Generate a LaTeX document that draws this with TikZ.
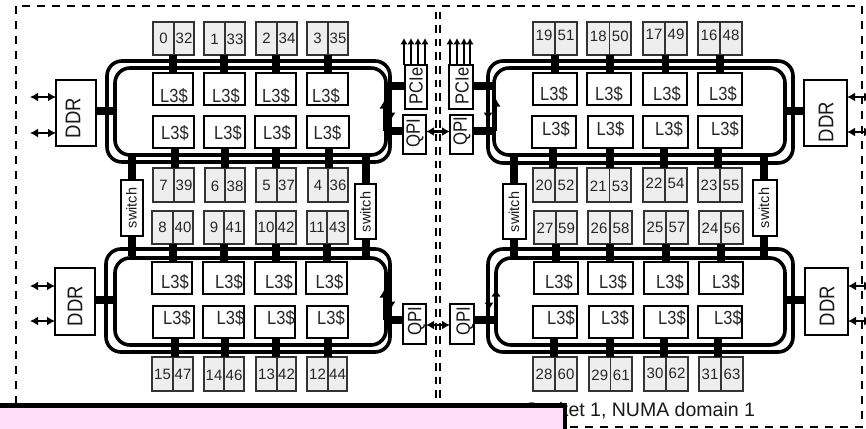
\documentclass[tikz,border=0pt]{standalone}
\usepackage{fontspec}
\usepackage{graphicx}
\setmainfont{Liberation Sans}
\usetikzlibrary{fit,arrows.meta}
\definecolor{pinkbox}{RGB}{255,221,248}
\definecolor{cellgray}{RGB}{238,238,238}
\newcommand\tallt[1]{\scalebox{1}[1.15]{#1}}
\tikzset{
  fitbox/.style={inner sep=0pt,outer sep=0pt,minimum size=0pt},
  cell/.style={fitbox,draw=black!80,line width=1.4pt,fill=cellgray},
  wbox/.style={fitbox,draw=black,line width=1.9pt,fill=white},
  ringbox/.style={fitbox,draw=black,line width=3.6pt,rounded corners=15pt},
  num/.style={inner sep=0pt,font=\fontsize{15}{15}\selectfont,text=black!85},
  cache/.style={inner sep=0pt,font=\fontsize{16.5}{17}\selectfont,text=black!85},
  vlabel/.style={inner sep=0pt,rotate=90,text=black!90},
  link/.style={draw=black,line width=7.5pt},
  biarrow/.style={draw=black,line width=2.4pt,{Latex[length=8pt,width=9pt]}-{Latex[length=8pt,width=9pt]}},
  uparrow/.style={draw=black,line width=1.8pt,-{Latex[length=6.5pt,width=7.5pt]}},
  ringarrow/.style={draw=black,line width=2pt,-{Latex[length=7.5pt,width=9.5pt]}},
  frame/.style={draw=black,line width=1.3pt,dash pattern=on 8pt off 7pt},
  midline/.style={draw=black,line width=1.3pt,dash pattern=on 7.5pt off 6pt}
}
\newcommand\corepair[9]{%
  \node[cell,fit={(#4,#7)(#5,#8)}] (#1a) {};
  \node[cell,fit={(#5,#7)(#6,#8)}] (#1b) {};
  \node[num] (#1at) at (#1a.center |- 0,#9) {#2};
  \node[num] (#1bt) at (#1b.center |- 0,#9) {#3};
}
\newcommand\lthree[7]{%
  \node[wbox,fit={(#2,#4)(#3,#5)}] (#1) {};
  \node[cache] (#1t) at (#6,#7) {\tallt{L3\$}};
}
\newcommand\rotbox[8]{% name x1 x2 y1 y2 tx ty size; text follows
  \node[wbox,fit={(#2,#4)(#3,#5)}] (#1) {};
  \node[vlabel,font=\fontsize{#8}{#8}\selectfont] (#1t) at (#6,#7)
}
\begin{document}
\begin{tikzpicture}[x=1pt,y=-1pt]
\useasboundingbox (0,0) rectangle (866,428);
\clip (0,0) rectangle (866,428);
% frames
\draw[frame] (16,6) rectangle (862,427);
\coordinate (ma) at (436,12); \coordinate (mb) at (436,410);
\coordinate (mc) at (440,12); \coordinate (md) at (440,410);
\draw[midline] (ma) -- (mb);
\draw[midline] (mc) -- (md);
\node[inner sep=0pt,anchor=base west,font=\fontsize{19.5}{20}\selectfont,text=black!90] (title) at (525,416) {Socket 1, NUMA domain 1};
% rings
\node[ringbox,fit={(107,61)(390,162)}] (rTLo) {};
\node[ringbox,fit={(115,68)(386,155)}] (rTLi) {};
\node[ringbox,fit={(106,249)(390,352)}] (rBLo) {};
\node[ringbox,fit={(115,258)(386,345)}] (rBLi) {};
\node[ringbox,fit={(488,61)(793,163)}] (rTRo) {};
\node[ringbox,fit={(494,68)(785,155)}] (rTRi) {};
\node[ringbox,fit={(488,249)(793,352)}] (rBRo) {};
\node[ringbox,fit={(496,258)(785,345)}] (rBRi) {};
% cores, upper left
\foreach \n/\A/\B/\xa/\xm/\xb/\ty in {a0/0/32/153/174/194/38.5,a1/1/33/204/225/245/39.5,a2/2/34/256/277/297/38,a3/3/35/307/328/348/38.5}
  {\corepair{\n}{\A}{\B}{\xa}{\xm}{\xb}{22}{55}{\ty}}
\foreach \n/\A/\B/\xa/\xm/\xb/\ty in {b0/7/39/153/174/194/185,b1/6/38/205/225/245/186.5,b2/5/37/256/277/296/185,b3/4/36/308/328/348/185}
  {\corepair{\n}{\A}{\B}{\xa}{\xm}{\xb}{168}{202}{\ty}}
\foreach \n/\A/\B/\xa/\xm/\xb/\ty in {c0/8/40/152/173/193/227,c1/9/41/204/224/244/227.5,c2/10/42/256/276/296/227,c3/11/43/307/327/348/227}
  {\corepair{\n}{\A}{\B}{\xa}{\xm}{\xb}{211}{244}{\ty}}
\foreach \n/\A/\B/\xa/\xm/\xb/\ty in {d0/15/47/152/173/193/374.5,d1/14/46/204/224/244/375,d2/13/42/256/277/296/374.5,d3/12/44/307/328/347/374.5}
  {\corepair{\n}{\A}{\B}{\xa}{\xm}{\xb}{357}{391}{\ty}}
% cores, right
\foreach \n/\A/\B/\xa/\xm/\xb/\ty in {e0/19/51/533/555/577/35.5,e1/18/50/587/609.5/631/36,e2/17/49/643/665/687/34,e3/16/48/698/720/742/35}
  {\corepair{\n}{\A}{\B}{\xa}{\xm}{\xb}{22}{55}{\ty}}
\foreach \n/\A/\B/\xa/\xm/\xb/\ty in {f0/20/52/533/555/577/185,f1/21/53/587/609.5/631/186.5,f2/22/54/643/665/687/183.5,f3/23/55/698/720/742/185}
  {\corepair{\n}{\A}{\B}{\xa}{\xm}{\xb}{168}{202}{\ty}}
\foreach \n/\A/\B/\xa/\xm/\xb/\ty in {g0/27/59/534/556/577/228,g1/26/58/588/610/632/228,g2/25/57/644/666/688/227,g3/24/56/699/721/743/228}
  {\corepair{\n}{\A}{\B}{\xa}{\xm}{\xb}{211}{244}{\ty}}
\foreach \n/\A/\B/\xa/\xm/\xb/\ty in {h0/28/60/533/555/577/374.5,h1/29/61/589/610.5/632/375,h2/30/62/644/666/688/373,h3/31/63/699/721/743/374}
  {\corepair{\n}{\A}{\B}{\xa}{\xm}{\xb}{357}{391}{\ty}}
% L3 boxes
\foreach \n/\xa/\xb/\tx in {la0/153/193/174,la1/204/245/226,la2/256/296/276,la3/307/348/326}
  {\lthree{\n}{\xa}{\xb}{73}{105}{\tx}{96.5}}
\foreach \n/\xa/\xb/\tx in {lb0/153/194/175,lb1/204/245/228,lb2/255/296/277,lb3/307/349/327.5}
  {\lthree{\n}{\xa}{\xb}{116}{148}{\tx}{133}}
\foreach \n/\xa/\xb/\tx in {lc0/152/192/175,lc1/203/244/229,lc2/255/296/279,lc3/306/347/329.5}
  {\lthree{\n}{\xa}{\xb}{262}{294}{\tx}{282}}
\foreach \n/\xa/\xb/\tx in {ld0/153/194/177,ld1/203/244/230.5,ld2/255/295/281,ld3/307/348/331}
  {\lthree{\n}{\xa}{\xb}{306}{338}{\tx}{318}}
\foreach \n/\xa/\xb/\tx in {le0/533/577/554,le1/587/631/609,le2/643/687/667,le3/698/742/723}
  {\lthree{\n}{\xa}{\xb}{73}{105}{\tx}{94}}
\foreach \n/\xa/\xb/\tx in {lf0/532/576/556,lf1/588/633/610.5,lf2/643/688/669,lf3/698/742/725}
  {\lthree{\n}{\xa}{\xb}{116}{148}{\tx}{129.5}}
\foreach \n/\xa/\xb/\tx in {lg0/534/578/559,lg1/588/633/613,lg2/644/688/670,lg3/699/743/726}
  {\lthree{\n}{\xa}{\xb}{262}{294}{\tx}{282}}
\foreach \n/\xa/\xb/\tx in {lh0/533/577/561,lh1/589/633/615,lh2/644/688/672,lh3/698/742/728}
  {\lthree{\n}{\xa}{\xb}{306}{338}{\tx}{318}}
% core to cache links
\foreach \ca/\lbx/\x in {a0/la0/173,a1/la1/224,a2/la2/276,a3/la3/328,e0/le0/555,e1/le1/610,e2/le2/665.5,e3/le3/720,
                         c0/lc0/173,c1/lc1/224,c2/lc2/276,c3/lc3/327,g0/lg0/556,g1/lg1/610,g2/lg2/666,g3/lg3/721}
  {\draw[link] (\x,0 |- \ca a.south) -- (\x,0 |- \lbx.north);}
\foreach \ca/\lbx/\x in {b0/lb0/175,b1/lb1/225,b2/lb2/276,b3/lb3/329,f0/lf0/553,f1/lf1/610,f2/lf2/664,f3/lf3/718,
                         d0/ld0/175,d1/ld1/225,d2/ld2/276,d3/ld3/328,h0/lh0/554,h1/lh1/610,h2/lh2/664,h3/lh3/718}
  {\draw[link] (\x,0 |- \lbx.south) -- (\x,0 |- \ca a.north);}
% DDR
\rotbox{ddrA}{56}{96}{80}{146}{73}{118}{18.5} {\tallt{DDR}};
\rotbox{ddrB}{55}{95}{268}{335}{75}{306}{18.5} {\tallt{DDR}};
\rotbox{ddrC}{804}{847}{80}{146}{826}{122}{18.5} {\tallt{DDR}};
\rotbox{ddrD}{805}{848}{268}{335}{827}{306}{18.5} {\tallt{DDR}};
% PCIe, QPI
\rotbox{pcA}{405}{427}{65}{109}{416}{86}{16.5} {\tallt{PCIe}};
\rotbox{pcB}{449}{473}{65}{109}{462}{86}{16.5} {\tallt{PCIe}};
\rotbox{qpA}{403}{426}{115}{154}{415}{133}{16.8} {\tallt{QPI}};
\rotbox{qpB}{450}{473}{115}{154}{462}{131}{16.8} {\tallt{QPI}};
\rotbox{qpC}{403}{426}{304}{344}{416.5}{321}{16.8} {\tallt{QPI}};
\rotbox{qpD}{450}{474}{304}{344}{465}{321}{16.8} {\tallt{QPI}};
% switches
\rotbox{swA}{121}{143}{180}{236}{131.5}{208}{14.5} {switch};
\rotbox{swB}{355}{376}{184}{239}{365.5}{212}{14.5} {switch};
\rotbox{swC}{503}{526}{184}{239}{514}{212}{14.5} {switch};
\rotbox{swD}{753}{777}{180}{236}{764}{208}{14.5} {switch};
% thick links
\draw[link] (ddrA.east |- 0,111) -- (113,111);
\draw[link] (ddrB.east |- 0,300) -- (113,300);
\draw[link] (ddrC.west |- 0,111) -- (785,111);
\draw[link] (ddrD.west |- 0,300) -- (785,300);
\draw[link] (pcA.west |- 0,86) -- (385,86);
\draw[link] (pcB.east |- 0,86) -- (493,86);
\draw[link] (qpA.west |- 0,131) -- (385,131);
\draw[link] (qpB.east |- 0,131) -- (493,131);
\draw[link] (qpC.west |- 0,320) -- (385,320);
\draw[link] (qpD.east |- 0,320) -- (495,320);
\foreach \s/\x in {swA/132,swB/366,swC/514,swD/764}{
  \draw[link] (\x,0 |- \s.north) -- (\x,153);
  \draw[link] (\x,0 |- \s.south) -- (\x,256);
}
% double arrows
\foreach \d/\y in {ddrA/97,ddrA/133,ddrB/286,ddrB/321}
  {\draw[biarrow] (30,\y) -- (\d.west |- 0,\y);}
\foreach \d/\y in {ddrC/97,ddrC/132,ddrD/286,ddrD/321}
  {\draw[biarrow] (\d.east |- 0,\y) -- (872,\y);}
\draw[biarrow] (qpA.east |- 0,131.5) -- (qpB.west |- 0,131.5);
\draw[biarrow] (qpC.east |- 0,325) -- (qpD.west |- 0,325);
% PCIe outputs
\foreach \x in {404,411,418,425}{\draw[uparrow] (\x,0 |- pcA.north) -- (\x,38);}
\foreach \x in {450,457,464,470}{\draw[uparrow] (\x,0 |- pcB.north) -- (\x,38);}
% internal arrows
\draw[ringarrow] (384,131) -- (384,101);
\draw[ringarrow] (391,86) -- (391,120);
\draw[ringarrow] (496,131) -- (496,99);
\draw[ringarrow] (488,86) -- (488,120);
\draw[ringarrow] (384,320) -- (384,290);
\draw[ringarrow] (391,275) -- (391,309);
\draw[ringarrow] (496,320) -- (496,289);
\draw[ringarrow] (489,275) -- (489,310);
% overlay panel
\node[fitbox,draw=black,line width=4.6pt,fill=pinkbox,fit={(-10,405.5)(565,445)}] (panel) {};
\end{tikzpicture}
\end{document}
